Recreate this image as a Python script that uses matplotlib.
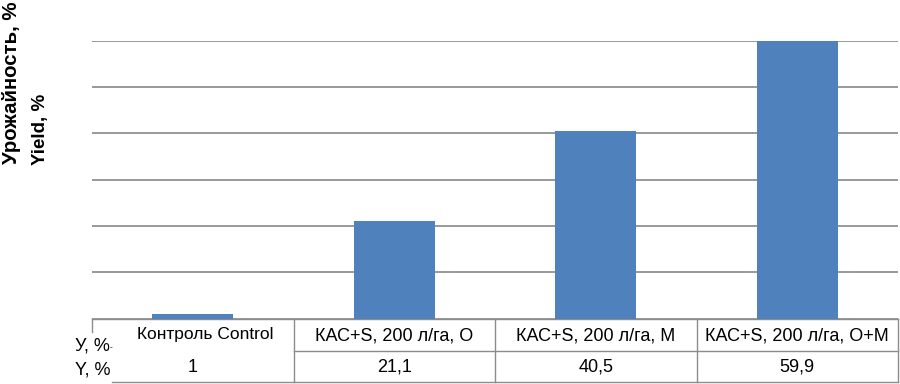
import matplotlib.pyplot as plt
from matplotlib.transforms import blended_transform_factory

# data
categories = ['Контроль Control', 'КАС+S, 200 л/га, О',
              'КАС+S, 200 л/га, М', 'КАС+S, 200 л/га, О+М']
yields = [1.0, 21.1, 40.5, 59.9]
value_labels = ['1', '21,1', '40,5', '59,9']

W, H = 900, 384
fig = plt.figure(figsize=(W / 100, H / 100), dpi=100)
fig.patch.set_facecolor('white')

# plot area in pixels: left 92, right 898, top 40.7, bottom 318.5
left, right, top, bottom = 92, 898, 40.7, 318.5
ax = fig.add_axes([left / W, 1 - bottom / H, (right - left) / W, (bottom - top) / H])

x = range(len(categories))
ax.bar(x, yields, width=0.4, color='#4F81BD', zorder=3)
ax.set_xlim(-0.5, 3.5)
ax.set_ylim(0, 60)
ax.set_yticks(range(0, 61, 10))
ax.yaxis.grid(True, color='#888888', lw=1.2, zorder=0)
ax.tick_params(left=False, bottom=False, labelleft=False, labelbottom=False)
for sp in ax.spines.values():
    sp.set_visible(False)

# ── data table under the plot ──────────────────────────────────────────
ph = bottom - top
def ay(py):
    # pixel row -> axes fraction
    return (bottom - py) / ph

tr = blended_transform_factory(ax.transData, ax.transAxes)
line_kw = dict(color='#8c8c8c', lw=1.0, clip_on=False)

y_top, y_mid, y_bot = ay(319), ay(351), ay(382)
ax.plot([-0.5, 3.5], [y_top, y_top], transform=tr, **line_kw)
ax.plot([0.5, 3.5], [y_mid, y_mid], transform=tr, **line_kw)
x_bot0 = -0.5 + (112 - left) / ((right - left) / 4)
ax.plot([x_bot0, 3.5], [y_bot, y_bot], transform=tr, **line_kw)
ax.plot([-0.5, -0.5], [y_top, ay(332)], transform=tr, **line_kw)
for xb in [0.5, 1.5, 2.5, 3.5]:
    ax.plot([xb, xb], [y_top, y_bot], transform=tr, **line_kw)

for i, (cat, val) in enumerate(zip(categories, value_labels)):
    if i == 0:
        # the control header sits a little right of its column centre
        ax.text(i + 0.06, ay(335), cat, transform=tr, ha='center', va='center',
                fontsize=12.5, family='Liberation Sans')
    else:
        ax.text(i, ay(336), cat, transform=tr, ha='center', va='center',
                fontsize=13, family='Liberation Sans')
    ax.text(i, ay(367), val, transform=tr, ha='center', va='center',
            fontsize=13, family='Liberation Sans')

# row headers
fig.text(75 / W, 1 - 346 / H, 'У, %', ha='left', va='center',
         fontsize=13, family='Liberation Sans')
fig.text(110 / W, 1 - 348 / H, '-', ha='left', va='center', fontsize=6,
         family='Liberation Sans')
fig.text(75 / W, 1 - 370 / H, 'Y, %', ha='left', va='center',
         fontsize=13, family='Liberation Sans')

# rotated y label, two lines
fig.text(12 / W, 1 - 164 / H, 'Урожайность, %', rotation=90, ha='center',
         va='bottom', fontsize=14.7, fontweight='bold', family='Liberation Sans')
fig.text(40 / W, 1 - 165 / H, 'Yield, %', rotation=90, ha='center',
         va='bottom', fontsize=13.5, fontweight='bold', family='Liberation Sans')

fig.savefig('out.png', dpi=100, facecolor='white')
